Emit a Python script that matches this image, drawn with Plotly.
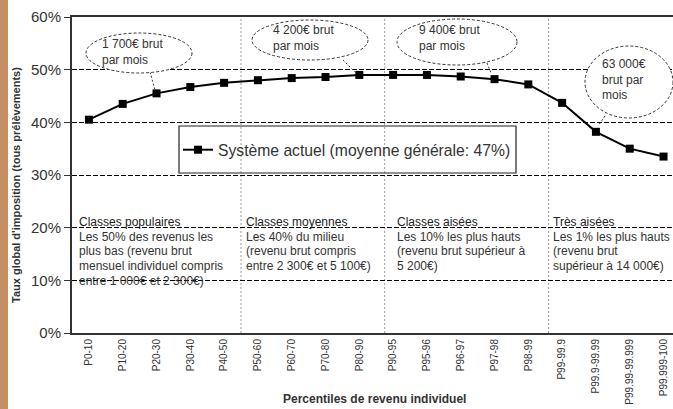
import plotly.graph_objects as go

categories = ["P0-10", "P10-20", "P20-30", "P30-40", "P40-50", "P50-60", "P60-70",
              "P70-80", "P80-90", "P90-95", "P95-96", "P96-97", "P97-98", "P98-99",
              "P99-99.9", "P99.9-99.99", "P99.99-99.999", "P99.999-100"]
taux = [40.5, 43.5, 45.5, 46.7, 47.5, 48.0, 48.4, 48.6, 49.0, 49.0, 49.0, 48.7,
        48.2, 47.2, 43.7, 38.2, 35.0, 33.5]
y_ticks = [0, 10, 20, 30, 40, 50, 60]
y_ticklabels = ["0%", "10%", "20%", "30%", "40%", "50%", "60%"]
serie_name = "Système actuel (moyenne générale: 47%)"

class_titles = ["Classes populaires", "Classes moyennes", "Classes aisées", "Très aisées"]
class_lines = [
    ["Les 50% des revenus les", "plus bas (revenu brut", "mensuel individuel compris", "entre 1 000€ et 2 300€)"],
    ["Les 40% du milieu", "(revenu brut compris", "entre 2 300€ et 5 100€)"],
    ["Les 10% les plus hauts", "(revenu brut supérieur à", "5 200€)"],
    ["Les 1% les plus hauts", "(revenu brut", "supérieur à 14 000€)"],
]
callouts = ["1 700€ brut<br>par mois", "4 200€ brut<br>par mois", "9 400€ brut<br>par mois",
            "63 000€<br>brut par<br>mois"]

W, H = 673, 409
L, R, T, B = 72, 0, 17, 76
PW, PH = W - L - R, H - T - B
FONT = "Liberation Sans, Arial, sans-serif"
TXT = "#333333"


def px(x):
    return (x - L) / PW


def py(y):
    return (H - B - y) / PH


fig = go.Figure()
fig.add_trace(go.Scatter(
    x=categories, y=taux, mode="lines+markers", name=serie_name,
    line=dict(color="black", width=2),
    marker=dict(symbol="square", size=8, color="black"),
    showlegend=True,
))

shapes = []
annotations = []

# left tan strip
shapes.append(dict(type="rect", xref="paper", yref="paper", x0=px(0), x1=px(8),
                   y0=py(H), y1=py(0), fillcolor="#c48f66", line=dict(width=0), layer="below"))

# vertical dotted separators
for xv in [4.5, 8.75, 13.6]:
    shapes.append(dict(type="line", xref="x", yref="y", x0=xv, x1=xv, y0=0, y1=60,
                       line=dict(color="#999999", width=1, dash="2px,2px"), layer="below"))

# legend box
shapes.append(dict(type="rect", xref="paper", yref="paper", x0=px(179), x1=px(516),
                   y0=py(173), y1=py(126), line=dict(color="#222222", width=1.2),
                   fillcolor="rgba(0,0,0,0)"))

# callout ellipses (cx, cy, rx, ry) in pixels, text position, pointer
ell = [
    ((139, 53, 53, 20), (100, 52), ((150, 72), (155, 90))),
    ((310, 40, 58, 20), (271, 38), ((343, 60), (355, 72))),
    ((457, 42, 60, 23), (417, 38), ((487, 63), (491, 73))),
    ((629, 82, 44, 36), (600, 80), ((605, 116), (598, 126))),
]
for (cx, cy, rx, ry), (tx, ty), (p0, p1) in ell:
    shapes.append(dict(type="line", xref="paper", yref="paper", x0=px(p0[0]), y0=py(p0[1]),
                       x1=px(p1[0]), y1=py(p1[1]), line=dict(color="#333333", width=1, dash="2px,2px")))
    shapes.append(dict(type="circle", xref="paper", yref="paper", x0=px(cx - rx), x1=px(cx + rx),
                       y0=py(cy + ry), y1=py(cy - ry), fillcolor="white",
                       line=dict(color="#333333", width=1, dash="3px,2px")))
for i, ((cx, cy, rx, ry), (tx, ty), _) in enumerate(ell):
    annotations.append(dict(xref="paper", yref="paper", x=px(tx), y=py(ty), text=callouts[i],
                            showarrow=False, xanchor="left", yanchor="middle", align="left",
                            font=dict(family=FONT, size=12, color=TXT)))

# class texts
col_x = [77, 244, 395, 551]
for i, xc in enumerate(col_x):
    lines = [class_titles[i]] + class_lines[i]
    for j, t in enumerate(lines):
        annotations.append(dict(xref="paper", yref="paper", x=px(xc), y=py(222 + 14.7 * j), text=t,
                                showarrow=False, xanchor="left", yanchor="middle",
                                font=dict(family=FONT, size=12, color="#222222" if j == 0 else TXT)))

# axis titles
annotations.append(dict(xref="paper", yref="paper", x=px(16), y=py(185), textangle=-90,
                        text="Taux global d'imposition (tous prélèvements)", showarrow=False,
                        xanchor="center", yanchor="middle",
                        font=dict(family=FONT, size=11, color=TXT, weight="bold")))
annotations.append(dict(xref="paper", yref="paper", x=px(374), y=py(399),
                        text="Percentiles de revenu individuel", showarrow=False,
                        xanchor="center", yanchor="middle",
                        font=dict(family=FONT, size=12, color=TXT, weight="bold")))

fig.update_layout(
    width=W, height=H,
    margin=dict(l=L, r=R, t=T, b=B, pad=0),
    paper_bgcolor="white", plot_bgcolor="white",
    shapes=shapes, annotations=annotations,
    legend=dict(x=px(178), y=py(150), xanchor="left", yanchor="middle",
                bgcolor="rgba(0,0,0,0)", borderwidth=0,
                font=dict(family=FONT, size=15.7, color=TXT), itemwidth=30),
    xaxis=dict(type="category", range=[-0.5, 17.28], showgrid=False,
               showline=True, linecolor="#333333", linewidth=2, mirror=True,
               tickangle=-90, tickfont=dict(family=FONT, size=10, color=TXT), ticks="",
               automargin=False),
    yaxis=dict(range=[0, 60], tickvals=y_ticks, ticktext=y_ticklabels,
               showgrid=True, gridcolor="black", griddash="5px,2px", gridwidth=1,
               zeroline=False, showline=True, linecolor="#333333", linewidth=2,
               ticks="outside", ticklen=6, tickcolor="#333333", automargin=False,
               tickfont=dict(family=FONT, size=15, color=TXT)),
)

fig.write_html("out.html", config={"displayModeBar": False},
               post_script="document.body.style.margin='0';document.body.style.overflow='hidden';")
